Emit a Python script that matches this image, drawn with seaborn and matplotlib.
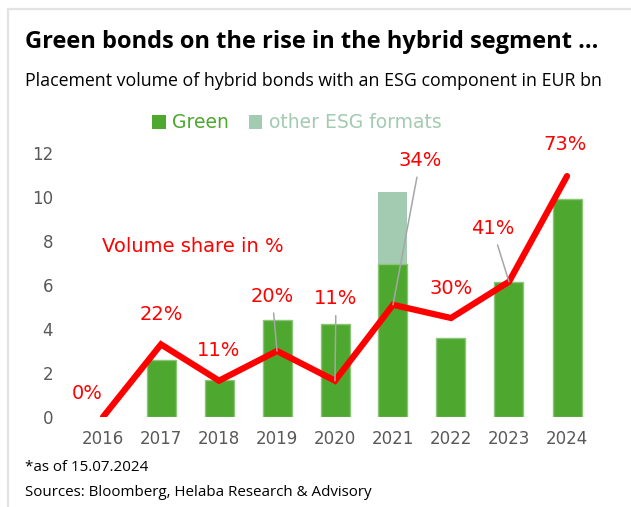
import matplotlib
matplotlib.use('Agg')
import matplotlib.pyplot as plt
from matplotlib.patches import Patch
from matplotlib.lines import Line2D
import seaborn as sns
import pandas as pd

# ---- data ----
years = ['2016', '2017', '2018', '2019', '2020', '2021', '2022', '2023', '2024']
green = [0.0, 2.6, 1.7, 4.4, 4.25, 6.95, 3.6, 6.15, 9.9]
other_esg = [0.0, 0.0, 0.0, 0.0, 0.0, 3.3, 0.0, 0.0, 0.0]
share = [0, 22, 11, 20, 11, 34, 30, 41, 73]
share_labels = ['0%', '22%', '11%', '20%', '11%', '34%', '30%', '41%', '73%']
y_ticks = [0, 2, 4, 6, 8, 10, 12]

# label offsets (points) relative to the line point, and whether a leader line is drawn
label_offsets = [(-11.5, 17), (0, 21.5), (0, 21.5), (-3.5, 39.5), (0.7, 59), (19.5, 104), (0, 21.5), (-12, 38.5), (-1.4, 23)]
leader = [False, False, False, True, True, True, False, True, False]

GREEN = '#4ea72e'
OTHER = '#a2cbb1'
RED = '#ff0000'
TICK = '#595959'

sns.set_theme(style='white')
plt.rcParams['font.family'] = ['DejaVu Sans']

W, H = 631, 507
fig = plt.figure(figsize=(W / 100, H / 100), dpi=100)
fig.patch.set_facecolor('white')

ax = fig.add_axes([68.2 / W, 1 - 417 / H, 533.6 / W, 264 / H])

df = pd.DataFrame({'year': years, 'green': green,
                   'total': [g + o for g, o in zip(green, other_esg)]})

sns.barplot(data=df, x='year', y='total', color=OTHER, saturation=1, width=0.5,
            ax=ax, linewidth=0, zorder=2)
sns.barplot(data=df, x='year', y='green', color=GREEN, saturation=1, width=0.5,
            ax=ax, edgecolor='#8cc57a', linewidth=1, zorder=3)
for p in ax.patches:
    if p.get_height() == 0:
        p.set_linewidth(0)

ax.set_xlim(-0.6, 8.6)
ax.set_ylim(0, 12)
ax.set_yticks(y_ticks)
ax.set_yticklabels([str(t) for t in y_ticks])
ax.set_xlabel('')
ax.set_ylabel('')
ax.tick_params(axis='both', length=0, colors=TICK, labelsize=12)
ax.tick_params(axis='x', pad=9)
ax.tick_params(axis='y', pad=11)
for s in ax.spines.values():
    s.set_visible(False)

ax2 = ax.twinx()
sns.lineplot(x=list(range(len(years))), y=share, ax=ax2, color=RED, linewidth=4.5,
             solid_capstyle='round', solid_joinstyle='miter', zorder=5)
ax2.set_ylim(0, 80)
ax2.set_yticks([])
ax2.set_ylabel('')
for s in ax2.spines.values():
    s.set_visible(False)

for i, (lab, off, ld) in enumerate(zip(share_labels, label_offsets, leader)):
    kw = {}
    if ld:
        kw['arrowprops'] = dict(arrowstyle='-', color='#a6a6a6', lw=1.1,
                                shrinkA=3, shrinkB=0)
    ax2.annotate(lab, xy=(i, share[i]), xytext=off, textcoords='offset points',
                 ha='center', va='center', color=RED, fontsize=14,
                 annotation_clip=False, zorder=6, **kw)

fig.text(101.5 / W, 1 - 247 / H, 'Volume share in %', color=RED, fontsize=14,
         ha='left', va='center')

# legend
handles = [Patch(facecolor=GREEN, edgecolor='none', label='Green'),
           Patch(facecolor=OTHER, edgecolor='none', label='other ESG formats')]
fig.legend(handles=handles, loc='center', bbox_to_anchor=(297 / W, 1 - 123 / H),
           ncol=2, frameon=False, fontsize=13.5, handlelength=0.72, handleheight=0.72,
           handletextpad=0.35, columnspacing=1.05, labelcolor=[GREEN, OTHER],
           borderpad=0, borderaxespad=0)

# titles and footer
fig.text(25 / W, 1 - 48 / H, 'Green bonds on the rise in the hybrid segment ...',
         fontsize=17, fontweight='bold', family=['Open Sans', 'DejaVu Sans'],
         ha='left', va='baseline', color='black')
fig.text(25 / W, 1 - 86 / H,
         'Placement volume of hybrid bonds with an ESG component in EUR bn',
         fontsize=12.75, family=['Open Sans', 'DejaVu Sans'], ha='left', va='baseline',
         color='black')
fig.text(25 / W, 1 - 471 / H, '*as of 15.07.2024', fontsize=10.9,
         family=['Open Sans', 'DejaVu Sans'], ha='left', va='baseline', color='black')
fig.text(25 / W, 1 - 496 / H, 'Sources: Bloomberg, Helaba Research & Advisory',
         fontsize=10.9, family=['Open Sans', 'DejaVu Sans'], ha='left', va='baseline',
         color='black')

# light frame lines (left and top)
fig.add_artist(Line2D([8 / W, 8 / W], [0, 1 - 9 / H], color='#e3e3e3', lw=1.6))
fig.add_artist(Line2D([8 / W, 1], [1 - 9 / H, 1 - 9 / H], color='#e3e3e3', lw=1.6))

fig.savefig('out.png', dpi=100, facecolor='white')
